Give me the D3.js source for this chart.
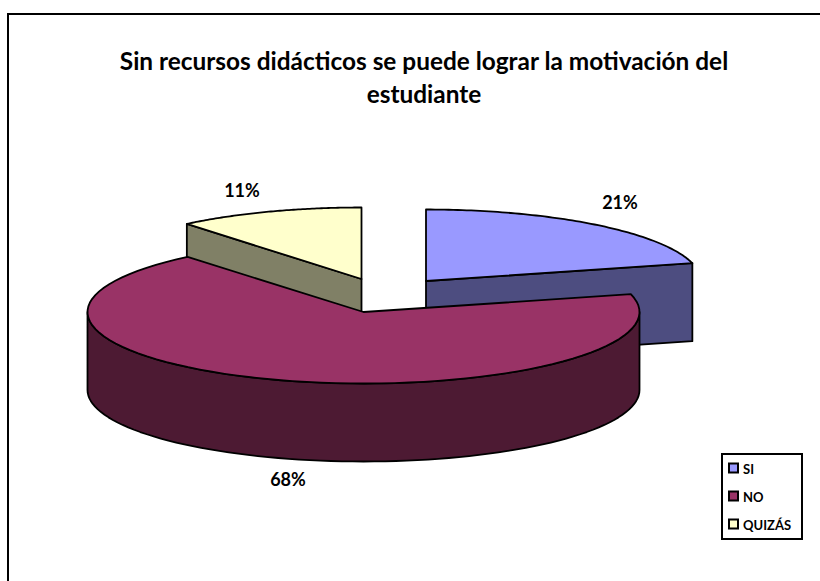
<!DOCTYPE html>
<html>
<head>
<meta charset="utf-8">
<script src="https://cdn.jsdelivr.net/npm/d3@7"></script>
<style>
html,body{margin:0;padding:0;background:#fff;}
svg{display:block;}
text{font-family:Lato,"Open Sans",sans-serif;font-weight:bold;fill:#000;}
</style>
</head>
<body>
<div id="chart"></div>
<script>
var categories = ["SI", "NO", "QUIZÁS"];
var values = [21, 68, 11];
var labels = ["21%", "68%", "11%"];
var titleLines = ["Sin recursos didácticos se puede lograr la motivación del", "estudiante"];

var topColors = ["#9999FF", "#993366", "#FFFFCC"];
var sideColors = ["#4D4D80", "#4D1A33", "#808066"];

var width = 820, height = 581;
var ry = 71.5, depth = 78;
// exploded slices, apex of each one and its radius
var centers = [[426, 281], [363.5, 312], [361.5, 279]];
var radii = [275, 276, 274];
var labelPos = [[620, 209], [288, 486], [242, 197]];

var svg = d3.select("#chart").append("svg")
    .attr("width", width)
    .attr("height", height);

// the frame only shows on the top and left
svg.append("path")
    .attr("d", d3.line()([[8, height], [8, 14], [width, 14]]))
    .attr("fill", "none")
    .attr("stroke", "#000")
    .attr("stroke-width", 2);

svg.selectAll(".title")
    .data(titleLines)
    .enter().append("text")
    .attr("class", "title")
    .attr("x", 424)
    .attr("y", function (d, i) { return 70 + i * 33; })
    .attr("text-anchor", "middle")
    .attr("font-size", 24.4)
    .text(function (d) { return d; });

var pie = d3.pie().sort(null).value(function (d) { return d; });
var arcs = pie(values);
var line = d3.line();

function point(i, a, dz) {
    return [centers[i][0] + radii[i] * Math.sin(a), centers[i][1] - ry * Math.cos(a) + dz];
}

function arcPoints(i, a0, a1, dz) {
    var n = 80, pts = [];
    for (var k = 0; k <= n; k++) {
        pts.push(point(i, a0 + (a1 - a0) * k / n, dz));
    }
    return pts;
}

function drawShape(pts, color) {
    svg.append("path")
        .attr("d", line(pts) + "Z")
        .attr("fill", color)
        .attr("stroke", "#000")
        .attr("stroke-width", 1.8)
        .attr("stroke-linejoin", "round");
}

function drawTop(i) {
    var a = arcs[i];
    drawShape([centers[i]].concat(arcPoints(i, a.startAngle, a.endAngle, 0)), topColors[i]);
}

// back slices first, the big one goes over them
[0, 2].forEach(function (i) {
    var c = centers[i];
    var edge = i == 0 ? arcs[i].endAngle : arcs[i].startAngle;
    var p = point(i, edge, 0);
    drawShape([c, p, [p[0], p[1] + depth], [c[0], c[1] + depth]], sideColors[i]);
    drawTop(i);
});

var a0 = Math.max(arcs[1].startAngle, Math.PI / 2);
var a1 = Math.min(arcs[1].endAngle, Math.PI * 1.5);
drawShape(arcPoints(1, a0, a1, 0).concat(arcPoints(1, a0, a1, depth).reverse()), sideColors[1]);
drawTop(1);

svg.selectAll(".label")
    .data(labels)
    .enter().append("text")
    .attr("class", "label")
    .attr("x", function (d, i) { return labelPos[i][0]; })
    .attr("y", function (d, i) { return labelPos[i][1]; })
    .attr("text-anchor", "middle")
    .attr("font-size", 18)
    .text(function (d) { return d; });

// legend
var legend = svg.append("g");
legend.append("rect")
    .attr("x", 722).attr("y", 454)
    .attr("width", 80).attr("height", 85)
    .attr("fill", "#fff")
    .attr("stroke", "#000")
    .attr("stroke-width", 2);

var rows = legend.selectAll(".row")
    .data(categories)
    .enter().append("g")
    .attr("class", "row")
    .attr("transform", function (d, i) { return "translate(729," + (463.5 + i * 28) + ")"; });

rows.append("rect")
    .attr("width", 9).attr("height", 9)
    .attr("fill", function (d, i) { return topColors[i]; })
    .attr("stroke", "#000")
    .attr("stroke-width", 2);

rows.append("text")
    .attr("x", 14)
    .attr("y", 10)
    .attr("font-size", 13)
    .text(function (d) { return d; });
</script>
</body>
</html>
